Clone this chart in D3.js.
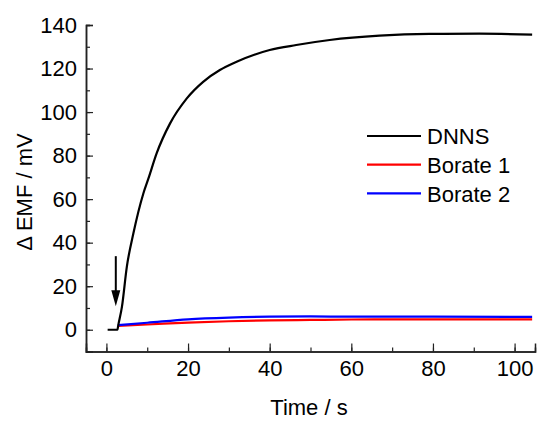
<!DOCTYPE html>
<meta charset="utf-8">
<style>
  body { margin: 0; background: #fff; }
  text { font-family: "Liberation Sans", Arial, sans-serif; fill: #000; }
</style>
<body>
<svg id="chart" width="537" height="421"></svg>
<script src="https://d3js.org/d3.v7.min.js"></script>
<script>

// data
var dnnsTime  = [0.3, 2.7, 2.9, 3.8, 5.0, 6.6, 9.05, 10.3, 12.3, 15.6, 19.7, 23.7, 27.8, 31.9, 40, 46.5, 54.7, 66.9, 79.1, 91.4, 104.3];
var dnnsEmf   = [0, 0, 2, 10.5, 28.9, 44.2, 62.6, 69.5, 81, 94.8, 106.3, 113.9, 119.3, 123.1, 128.5, 130.8, 133.1, 135.1, 135.9, 136, 135.6];
var borate1Time = [2.8, 10, 20, 30, 40, 50, 60, 80, 104.3];
var borate1Emf  = [1.8, 2.4, 3.3, 3.9, 4.3, 4.5, 4.7, 4.8, 4.8];
var borate2Time = [2.8, 10, 20, 30, 40, 50, 60, 80, 104.3];
var borate2Emf  = [2.1, 3.2, 4.8, 5.6, 6.0, 6.1, 6.0, 6.0, 5.9];
var seriesNames = ["DNNS", "Borate 1", "Borate 2"];
var seriesColors = ["#000000", "#ff0000", "#0000ff"];
var xTicks = [0, 20, 40, 60, 80, 100];
var yTicks = [0, 20, 40, 60, 80, 100, 120, 140];
var arrowX = [2.3, 2.3];
var arrowY = [33.8, 10.8];

var svg = d3.select("#chart");

var x = d3.scaleLinear().domain([-5, 105]).range([86, 535]);
var y = d3.scaleLinear().domain([-10, 140]).range([351.5, 25]);

var zip = function(a, b) { return a.map(function(d, i) { return [d, b[i]]; }); };
var series = [zip(dnnsTime, dnnsEmf), zip(borate1Time, borate1Emf), zip(borate2Time, borate2Emf)];

// axes, ticks drawn inward
var xMinor = d3.range(0, 101, 10);
var yMinor = d3.range(-10, 141, 10);

var gx = svg.append("g").attr("transform", "translate(0," + y(-10) + ")");
gx.call(d3.axisBottom(x).tickValues(xMinor).tickSize(-4).tickFormat(""));
gx.append("g").call(d3.axisBottom(x).tickValues(xTicks).tickSize(-8).tickPadding(8.5).tickFormat(d3.format("d")));
gx.selectAll(".domain").attr("stroke", "#222").attr("stroke-width", 1.5);
gx.selectAll("line").attr("stroke", "#222").attr("stroke-width", 1.2);
gx.selectAll("text").style("font-size", "22px").attr("fill", "#000");

var gy = svg.append("g").attr("transform", "translate(" + x(-5) + ",0)");
gy.call(d3.axisLeft(y).tickValues(yMinor).tickSize(-4).tickFormat(""));
gy.append("g").call(d3.axisLeft(y).tickValues(yTicks).tickSize(-7).tickPadding(9).tickFormat(d3.format("d")));
gy.selectAll(".domain").attr("stroke", "#222").attr("stroke-width", 1.5);
gy.selectAll("line").attr("stroke", "#222").attr("stroke-width", 1.2);
gy.selectAll("text").style("font-size", "22px").attr("fill", "#000");

// axis titles
svg.append("text")
  .attr("x", 309).attr("y", 415)
  .attr("text-anchor", "middle")
  .style("font-size", "22px")
  .text("Time / s");

svg.append("text")
  .attr("transform", "translate(32,192) rotate(-90)")
  .attr("text-anchor", "middle")
  .style("font-size", "22px")
  .text("\u0394 EMF / mV");

// curves
var line = d3.line()
  .x(function(d) { return x(d[0]); })
  .y(function(d) { return y(d[1]); })
  .curve(d3.curveMonotoneX);

svg.append("g")
  .selectAll("path")
  .data([series[1], series[2], series[0]])
  .enter()
  .append("path")
    .attr("d", line)
    .attr("fill", "none")
    .attr("stroke", function(d, i) { return [seriesColors[1], seriesColors[2], seriesColors[0]][i]; })
    .attr("stroke-width", 2.2);

// injection arrow
var ax = x(arrowX[1]), ay = y(arrowY[1]);
svg.append("line")
  .attr("x1", x(arrowX[0])).attr("y1", y(arrowY[0]))
  .attr("x2", ax).attr("y2", ay - 14)
  .attr("stroke", "#000").attr("stroke-width", 2);
svg.append("path")
  .attr("d", "M" + (ax - 4.5) + "," + (ay - 16) + "L" + (ax + 4.5) + "," + (ay - 16) + "L" + ax + "," + ay + "Z")
  .attr("fill", "#000");

// legend
var legend = svg.append("g")
  .selectAll("g")
  .data(seriesNames)
  .enter()
  .append("g")
    .attr("transform", function(d, i) { return "translate(0," + (136 + i * 28.7) + ")"; });

legend.append("line")
  .attr("x1", 367).attr("x2", 421)
  .attr("stroke", function(d, i) { return seriesColors[i]; })
  .attr("stroke-width", 2.2);

legend.append("text")
  .attr("x", 427).attr("y", 8.4)
  .style("font-size", "22px")
  .text(function(d) { return d; });

</script>
</body>
